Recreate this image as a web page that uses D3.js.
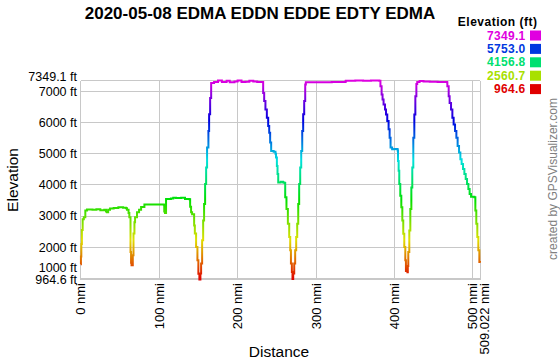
<!DOCTYPE html>
<html>
<head>
<meta charset="utf-8">
<script src="https://cdn.jsdelivr.net/npm/d3@7"></script>
<style>
  body{margin:0;background:#fff;}
  svg{display:block;font-family:"Liberation Sans",Arial,sans-serif;}
</style>
</head>
<body>
<div id="chart"></div>
<script>
// distance along the route (nmi) and elevation (ft)
const dist = [0,0.3,0.8,1.5,2.5,4,5.9,8,15,20,25,30,32.3,33.5,35,37.4,42,48,54,57.8,59,61,62,63.5,64.2,64.8,65.8,66.4,67.3,68.5,69.3,71.8,74.4,77,81.2,95,106,106.5,107.5,108.8,115,118,121.6,128,133,138.6,139.5,140.7,142,144.6,145.5,147.1,148.8,150,151.3,152.6,153.5,154.8,156.1,157.3,158.6,159.9,161.1,162.8,163.7,165,166.3,170,175,180,186,190,196,200,205,210,215,220,225,228,232.2,232.6,233.9,235.5,237.3,239,240.3,241.5,242.8,246,248.3,249,250.1,250.9,251.8,255,258,259.8,260.7,262.3,264.1,265.8,267.1,268,269.2,270,270.9,272.2,273.4,274.7,276,277.3,278.5,279.8,281.1,282.4,283.6,284.9,286.2,287,300,320,337,338,350,360,370,380.5,382.1,383.6,384.8,386.1,387.9,389.2,390.8,392.5,393.8,395,397,400,404,404.5,405.3,406.1,407.4,408.7,410,411.2,412.5,413.8,414.6,416.5,417,417.6,418.9,420.2,421.5,422.7,424,425.3,426.6,427.9,429,432,437,445,455,467,467.4,469.1,470.3,472.1,473.8,475.4,477.2,478.9,480.5,482.3,484,485.6,487.4,489.1,490.8,492.5,494.2,495.8,497.6,501.8,503.1,504.3,505.6,506.9,508.2,509.022];
const elev = [1450,1700,2100,2550,2900,2960,3175,3210,3200,3220,3190,3200,3150,3120,3200,3240,3260,3280,3270,3250,3200,3100,2960,1850,1500,1420,1420,1740,2440,2800,2960,3120,3200,3290,3370,3370,3360,3150,3100,3550,3560,3590,3580,3590,3550,3540,3300,3120,3060,2700,2440,2005,1580,1150,964.6,1155,1480,2220,2860,3390,4030,4560,5200,5730,6270,6790,7270,7300,7349.1,7300,7340,7290,7320,7349.1,7300,7310,7340,7320,7300,7300,7300,6950,6690,6420,6155,5890,5675,5357,5090,5060,5000,4880,4610,4350,4080,4100,4080,4060,3600,3230,2750,2325,1900,1475,1207,980,1155,1480,1900,2325,2750,3390,4030,4560,5090,5730,6270,6690,7220,7290,7290,7300,7310,7340,7349.1,7345,7349.1,7340,7165,6900,6740,6580,6420,6260,6050,5785,5515,5200,5140,5150,5100,4770,4450,4030,3655,3280,2860,2430,2005,1580,1240,1200,1400,1845,2540,3230,3920,4560,5515,6260,6845,7240,7300,7330,7320,7310,7300,7290,7165,6845,6630,6420,6155,5940,5730,5515,5250,5040,4825,4670,4510,4350,4190,4030,3870,3710,3620,3600,3175,2750,2325,1900,1525,1500];

// tick values
const xTicks = [0,100,200,300,400,500,509.022];
const yTicks = [964.6,1000,2000,3000,4000,5000,6000,7000,7349.1];
// legend values (colour key)
const legendVals = [7349.1,5753.0,4156.8,2560.7,964.6];

const w = 560, h = 360;
const eMin = 964.6, eMax = 7349.1;

const svg = d3.select("#chart")
    .append("svg")
    .attr("width", w)
    .attr("height", h);

const x = d3.scaleLinear().domain([0, 509.022]).range([80.7, 480]);
const y = d3.scaleLinear().domain([eMin, eMax]).range([279.5, 80.5]);

// colour by elevation: red (low) -> magenta (high)
const colorOf = (v) => d3.hsl(300 * (v - eMin) / (eMax - eMin), 1, 0.44).formatHex();

// gridlines
svg.append("g")
    .selectAll("line")
    .data(xTicks)
    .enter()
    .append("line")
    .attr("x1", d => x(d)).attr("x2", d => x(d))
    .attr("y1", y(eMax)).attr("y2", y(eMin))
    .attr("stroke", "#c8c8c8")
    .attr("shape-rendering", "crispEdges");

svg.append("g")
    .selectAll("line")
    .data(yTicks)
    .enter()
    .append("line")
    .attr("x1", x(0)).attr("x2", x(509.022))
    .attr("y1", d => y(d)).attr("y2", d => y(d))
    .attr("stroke", "#c8c8c8")
    .attr("shape-rendering", "crispEdges");

// push apart labels that would collide
const spread = (pos, gap, dir) => {
    const out = pos.slice();
    for (let i = 1; i < out.length; i++) {
        if (dir * (out[i] - out[i - 1]) < gap) out[i] = out[i - 1] + dir * gap;
    }
    return out;
};

// y tick labels
const yPos = yTicks.map(d => y(d));
const yAdj = spread(yPos, 12, -1);
// top label goes up instead of pushing the 7000 one
yAdj[yAdj.length - 1] = yPos[yPos.length - 1] - 3.5;
svg.append("g")
    .selectAll("text")
    .data(yTicks)
    .enter()
    .append("text")
    .attr("x", 77)
    .attr("y", (d, i) => yAdj[i])
    .attr("dy", "0.35em")
    .attr("text-anchor", "end")
    .attr("font-size", "12.5px")
    .attr("fill", "#000")
    .text(d => (d % 1 ? d.toFixed(1) : d) + " ft");

// x tick labels (rotated)
const xAdj = spread(xTicks.map(d => x(d)), 11.5, 1);
svg.append("g")
    .selectAll("text")
    .data(xTicks)
    .enter()
    .append("text")
    .attr("transform", (d, i) => "translate(" + xAdj[i] + ",283) rotate(-90)")
    .attr("dy", "0.35em")
    .attr("text-anchor", "end")
    .attr("font-size", "13px")
    .attr("fill", "#000")
    .text(d => d + " nmi");

// elevation line, gradient by height
const grad = svg.append("defs")
    .append("linearGradient")
    .attr("id", "elevGrad")
    .attr("gradientUnits", "userSpaceOnUse")
    .attr("x1", 0).attr("x2", 0)
    .attr("y1", y(eMin)).attr("y2", y(eMax));
grad.selectAll("stop")
    .data(d3.range(0, 1.0001, 0.05))
    .enter()
    .append("stop")
    .attr("offset", d => d)
    .attr("stop-color", d => colorOf(eMin + d * (eMax - eMin)));

const pts = dist.map((d, i) => [d, elev[i]]);
svg.append("path")
    .datum(pts)
    .attr("fill", "none")
    .attr("stroke", "url(#elevGrad)")
    .attr("stroke-width", 2)
    .attr("d", d3.line().x(d => x(d[0])).y(d => y(d[1])).curve(d3.curveStepAfter));

// title
svg.append("text")
    .attr("x", 260)
    .attr("y", 19)
    .attr("text-anchor", "middle")
    .attr("font-size", "17px")
    .attr("font-weight", "bold")
    .text("2020-05-08 EDMA EDDN EDDE EDTY EDMA");

// axis titles
svg.append("text")
    .attr("x", 279)
    .attr("y", 357)
    .attr("text-anchor", "middle")
    .attr("font-size", "15.5px")
    .text("Distance");

svg.append("text")
    .attr("transform", "translate(18,180) rotate(-90)")
    .attr("text-anchor", "middle")
    .attr("font-size", "15.5px")
    .text("Elevation");

// legend
const legend = svg.append("g");
legend.append("text")
    .attr("x", 537.5)
    .attr("y", 26)
    .attr("text-anchor", "end")
    .attr("font-size", "12px")
    .attr("font-weight", "bold")
    .attr("letter-spacing", "0.5px")
    .text("Elevation (ft)");

legend.selectAll("rect")
    .data(legendVals)
    .enter()
    .append("rect")
    .attr("x", 530)
    .attr("y", (d, i) => 30.5 + i * 13.4)
    .attr("width", 11)
    .attr("height", 10)
    .attr("fill", d => colorOf(d));

legend.selectAll("text.val")
    .data(legendVals)
    .enter()
    .append("text")
    .attr("class", "val")
    .attr("x", 525.5)
    .attr("y", (d, i) => 39.6 + i * 13.4)
    .attr("text-anchor", "end")
    .attr("font-size", "12px")
    .attr("font-weight", "bold")
    .attr("letter-spacing", "0.3px")
    .attr("fill", d => colorOf(d))
    .text(d => d.toFixed(1));

// credit
svg.append("text")
    .attr("transform", "translate(556.5,179) rotate(-90)")
    .attr("text-anchor", "middle")
    .attr("font-size", "12px")
    .attr("fill", "#808080")
    .text("created by GPSVisualizer.com");
</script>
</body>
</html>
